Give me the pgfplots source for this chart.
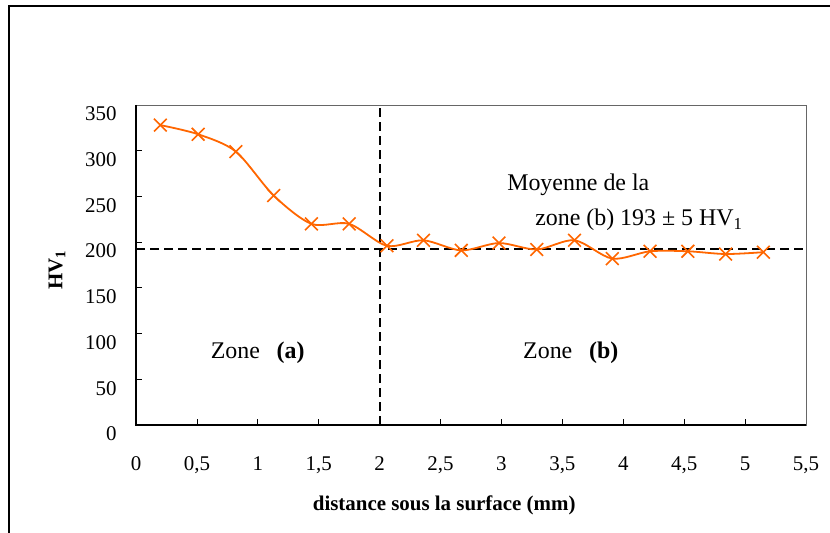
\documentclass[border=0pt]{standalone}
\usepackage{fontspec}
\setmainfont{Liberation Serif}
\usepackage{pgfplots}
\pgfplotsset{compat=1.18}
\definecolor{hvorange}{RGB}{255,102,0}
\begin{document}
\begin{tikzpicture}
\useasboundingbox (0bp,0bp) rectangle (830bp,533bp);
\draw[line width=1.6bp] (9bp,0bp) -- (9bp,527bp) -- (830bp,527bp);
\begin{axis}[
  at={(136bp,108bp)}, anchor=south west,
  scale only axis, width=670bp, height=320bp,
  xmin=0, xmax=5.5, ymin=0, ymax=350,
  clip=false,
  axis line style={draw=black!60, line width=0.8bp},
  tick pos=left,
  major tick length=6bp,
  tick style={black, line width=0.8bp},
  xtick={0,0.5,1,1.5,2,2.5,3,3.5,4,4.5,5,5.5},
  xticklabels={0,{0,5},1,{1,5},2,{2,5},3,{3,5},4,{4,5},5,{5,5}},
  ytick={0,50,100,150,200,250,300,350},
  /pgf/number format/assume math mode=true,
  tick label style={font=\fontsize{21}{24}\selectfont},
  xticklabel style={anchor=north, yshift=-28.5bp},
  yticklabel style={anchor=east, xshift=-16bp, yshift=-9bp},
  xlabel={\textbf{distance sous la surface (mm)}},
  xlabel style={at={(rel axis cs:0.46,0)}, anchor=center, yshift=-80bp, font=\fontsize{21}{24}\selectfont},
  ylabel={\textbf{HV\textsubscript{1}}},
  ylabel style={at={(rel axis cs:0,0.484)}, anchor=center, yshift=79bp, font=\fontsize{21}{24}\selectfont},
]
\addplot[black, line width=2bp, dash pattern=on 9bp off 5bp] coordinates {(2,0) (2,350)};
\addplot[black, line width=2bp, dash pattern=on 9bp off 5bp] coordinates {(0,193) (5.5,193)};
\addplot[hvorange, line width=1.8bp, smooth, tension=0.5, mark=x, mark size=9bp,
  mark options={line width=1.6bp, solid}] coordinates {
  (0.20,328) (0.51,318) (0.82,299) (1.13,251) (1.44,220) (1.75,220)
  (2.06,196) (2.36,202) (2.67,191) (2.98,199) (3.29,192) (3.60,202)
  (3.91,182) (4.22,190) (4.53,190) (4.84,187) (5.15,189)};
\draw[black, line width=1.6bp] (axis cs:0,350) -- (axis cs:0,0) -- (axis cs:5.5,0);
\node[anchor=base west, inner sep=0pt, font=\fontsize{24}{28}\selectfont] at (axis cs:3.046,256.3) {Moyenne de la};
\node[anchor=base west, inner sep=0pt, font=\fontsize{24}{28}\selectfont] at (axis cs:3.276,217.7) {zone (b) 193 ± 5 HV\textsubscript{1}};
\node[anchor=base west, inner sep=0pt, font=\fontsize{24}{28}\selectfont] at (axis cs:0.613,72.2) {Zone\hspace{0.7em}\textbf{(a)}};
\node[anchor=base west, inner sep=0pt, font=\fontsize{24}{28}\selectfont] at (axis cs:3.177,72.2) {Zone\hspace{0.7em}\textbf{(b)}};
\end{axis}
\end{tikzpicture}
\end{document}
